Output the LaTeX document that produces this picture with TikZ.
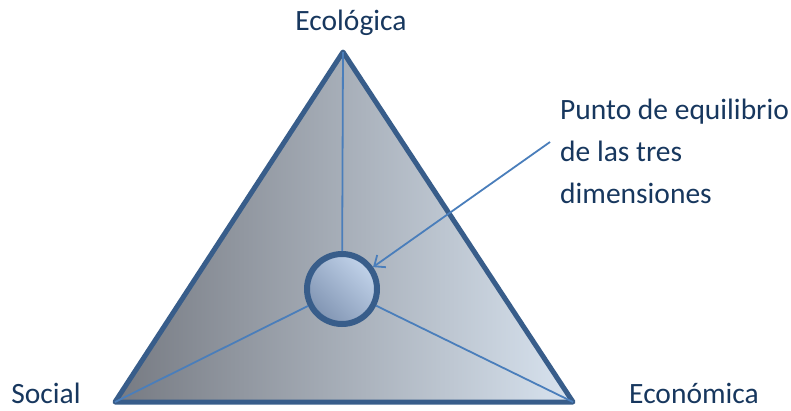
\documentclass[tikz,border=0pt]{standalone}
\usepackage{fontspec}
\setmainfont{Carlito}
\usepackage{tikz}
\usepackage{xcolor}
\usetikzlibrary{arrows.meta}
\definecolor{edgeblue}{RGB}{56,93,138}
\definecolor{lineblue}{RGB}{74,126,187}
\definecolor{textnavy}{RGB}{23,55,94}
\definecolor{trileft}{RGB}{118,122,130}
\definecolor{triright}{RGB}{216,227,239}
\definecolor{balldark}{RGB}{128,148,178}
\definecolor{balllight}{RGB}{194,211,234}

\begin{document}
\begin{tikzpicture}[x=1pt, y=-1pt,
    label/.style={text=textnavy, font=\fontsize{29.5}{42}\selectfont, inner sep=0pt},
    spoke/.style={lineblue, line width=1.8pt}]
			\useasboundingbox (0,0) rectangle (791,410);

			% Corners
			\coordinate (eco) at (343,52);
			\coordinate (soc) at (115,402);
			\coordinate (econ) at (573,402);

			% Triangle
			\shade[left color=trileft, right color=triright] (eco) -- (soc) -- (econ) -- cycle;
			\draw[edgeblue, line width=5pt, line join=round] (eco) -- (soc) -- (econ) -- cycle;

			% Equilibrium point
			\node[draw=edgeblue, line width=6pt, circle, minimum size=70pt, inner sep=0pt,
				shading=axis, top color=balllight, bottom color=balldark, shading angle=-45] (eq) at (342,289) {};

			% Spokes
			\draw[spoke] (eco) -- (eq);
			\draw[spoke] (soc) -- (eq);
			\draw[spoke] (econ) -- (eq);

			% Labels
			\node[label, anchor=base] (ecolbl) at (351,30) {Ecológica};
			\node[label, anchor=base] (soclbl) at (46,403.5) {Social};
			\node[label, anchor=base] (econlbl) at (694,403.5) {Económica};
			\node[label, anchor=north west, align=left] (note) at (560,99) {Punto de equilibrio\\de las tres\\dimensiones};

			% Arrow
			\coordinate (notept) at (550,142);
			\draw[spoke, -{Straight Barb[length=9pt, width=15pt]}] (notept) -- (eq);
		\end{tikzpicture}
\end{document}
